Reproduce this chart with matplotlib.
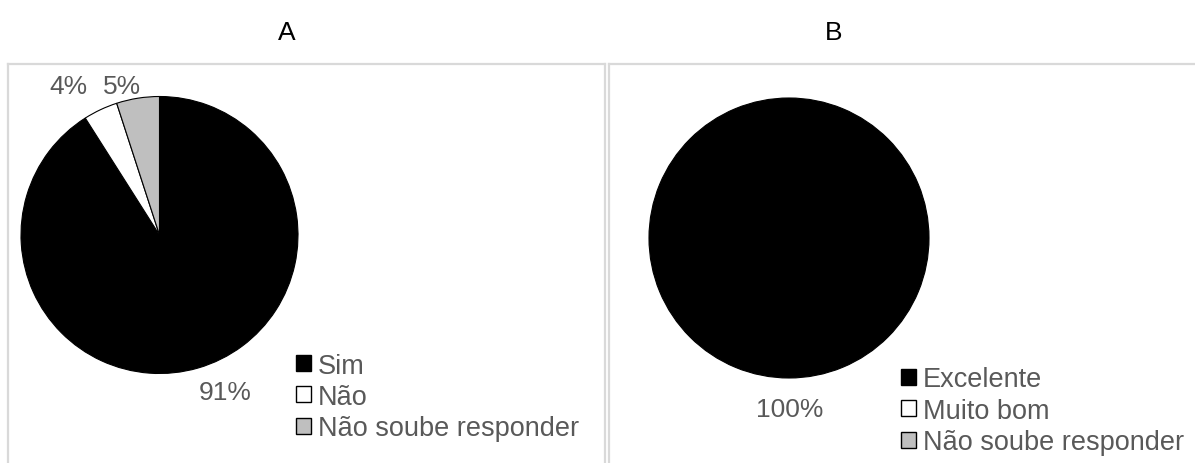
import matplotlib
matplotlib.use("Agg")
import matplotlib.pyplot as plt
from matplotlib.patches import Patch
from matplotlib.lines import Line2D

plt.rcParams["font.family"] = ["Liberation Sans", "DejaVu Sans"]

# Painel A
labels_a = ["Sim", "Não", "Não soube responder"]
values_a = [91, 4, 5]
# Painel B
labels_b = ["Excelente", "Muito bom", "Não soube responder"]
values_b = [100, 0, 0]

colors = ["#000000", "#ffffff", "#bfbfbf"]
text_color = "#595959"

W, H = 1195, 464
fig = plt.figure(figsize=(W / 100, H / 100), dpi=100)


def px_axes(cx, cy, r):
    # eixo quadrado em pixels, centrado no centro da pizza
    return fig.add_axes([(cx - r) / W, (H - cy - r) / H, 2 * r / W, 2 * r / H])


def frame(x0, x1, y0):
    kw = dict(color="#d9d9d9", lw=1.6, transform=fig.transFigure)
    fig.add_artist(Line2D([x0 / W, x1 / W], [1 - y0 / H] * 2, **kw))
    fig.add_artist(Line2D([x0 / W] * 2, [1 - y0 / H, 0], **kw))
    fig.add_artist(Line2D([x1 / W] * 2, [1 - y0 / H, 0], **kw))


def draw_pie(ax, values, labels, label_pos, leg_xy):
    wedges, _ = ax.pie(values, colors=colors, startangle=90, counterclock=False,
                       wedgeprops=dict(edgecolor="black", linewidth=0.8))
    ax.set_xlim(-1, 1)
    ax.set_ylim(-1, 1)
    ax.set_aspect("equal")
    ax.axis("off")
    total = sum(values)
    k = 0
    for v in values:
        if v == 0:
            continue
        x, y = label_pos[k]
        ax.text(x, y, f"{round(100 * v / total)}%", ha="center", va="center",
                fontsize=19, color=text_color, clip_on=False)
        k += 1
    handles = [Patch(facecolor=c, edgecolor="black", linewidth=1.0) for c in colors]
    fig.legend(handles, labels, loc="upper left",
               bbox_to_anchor=(leg_xy[0] / W, 1 - leg_xy[1] / H),
               frameon=False, fontsize=19.5, labelcolor=text_color,
               handlelength=0.55, handleheight=0.55, handletextpad=0.25,
               labelspacing=0.2, borderpad=0, borderaxespad=0)


frame(8, 605, 65)
frame(609, 1200, 65)

fig.text(287 / W, 1 - 33 / H, "A", ha="center", va="center", fontsize=19)
fig.text(834 / W, 1 - 33 / H, "B", ha="center", va="center", fontsize=19)

ax_a = px_axes(159.5, 236, 138.5)
draw_pie(ax_a, values_a, labels_a, [(0.473, -1.134), (-0.66, 1.076), (-0.27, 1.076)],
         (296, 353.5))

ax_b = px_axes(789, 239, 140)
draw_pie(ax_b, values_b, labels_b, [(0.007, -1.22)], (901, 367.5))

fig.savefig("out.png", dpi=100)
